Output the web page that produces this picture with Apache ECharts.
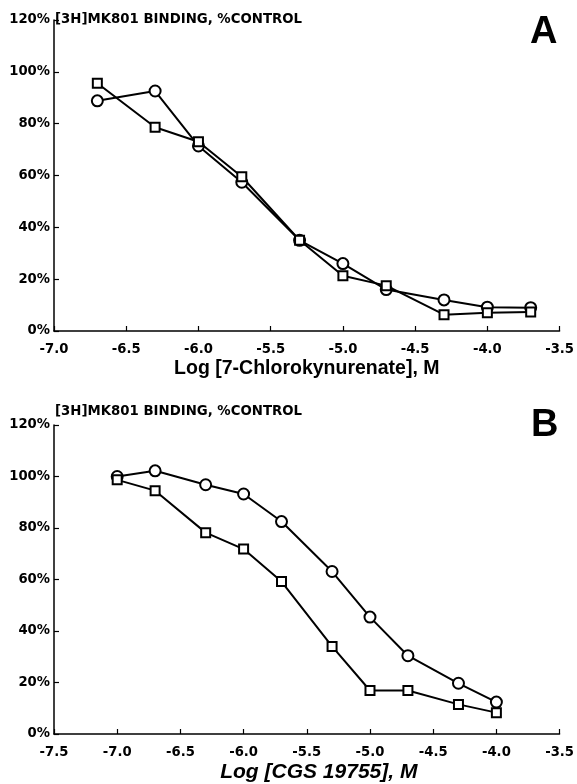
<!DOCTYPE html>
<html>
<head>
<meta charset="utf-8">
<title>MK801 binding</title>
<script src="https://cdn.jsdelivr.net/npm/echarts/dist/echarts.min.js"></script>
<style>
  html, body { margin: 0; padding: 0; background: #fff; }
  #chart { width: 577px; height: 784px; }
</style>
</head>
<body>
<div id="chart"></div>
<script>
// panel A: 7-chlorokynurenate
const logConcA = [-6.7, -6.3, -6.0, -5.7, -5.3, -5.0, -4.7, -4.3, -4.0, -3.7]
const circlesA = [88.8, 92.6, 71.4, 57.4, 35, 26, 16, 12, 9.2, 9]
const squaresA = [95.6, 78.6, 73, 59.5, 35, 21.3, 17.5, 6.3, 7, 7.3]

// panel B: CGS 19755
const logConcB = [-7.0, -6.7, -6.3, -6.0, -5.7, -5.3, -5.0, -4.7, -4.3, -4.0]
const circlesB = [100, 102.2, 96.8, 93.2, 82.5, 63.1, 45.4, 30.4, 19.7, 12.4]
const squaresB = [98.7, 94.5, 78.2, 71.8, 59.2, 34, 16.9, 16.9, 11.5, 8.3]

const yTitle = "[3H]MK801 BINDING, %CONTROL"
const xNameA = "Log [7-Chlorokynurenate], M"
const xNameB = "Log [CGS 19755], M"

const tickFont = {
  fontFamily: "DejaVu Sans",
  fontWeight: "bold",
  fontSize: 13.2,
  color: "#000"
}

const pairs = (xs, ys) => xs.map((x, i) => [x, ys[i]])

const makeX = (idx, min, name, italic, size, shift) => ({
  type: "value",
  gridIndex: idx,
  min: min,
  max: -3.5,
  interval: 0.5,
  name: name,
  nameLocation: "middle",
  nameGap: 28,
  nameTextStyle: {
    fontFamily: "Liberation Sans",
    fontWeight: "bold",
    fontStyle: italic ? "italic" : "normal",
    fontSize: size,
    color: "#000",
    padding: [0, 0, 0, shift]
  },
  axisLine: { onZero: false, lineStyle: { color: "#000", width: 1.5 } },
  axisTick: { inside: true, length: 5, lineStyle: { color: "#000", width: 1.2 } },
  axisLabel: Object.assign({ margin: 12, formatter: v => v.toFixed(1) }, tickFont),
  splitLine: { show: false }
})

const makeY = idx => ({
  type: "value",
  gridIndex: idx,
  min: 0,
  max: 120,
  interval: 20,
  axisLine: { show: true, lineStyle: { color: "#000", width: 1.5 } },
  axisTick: { show: true, inside: true, length: 5, lineStyle: { color: "#000", width: 1.2 } },
  axisLabel: Object.assign({ margin: 4, formatter: v => v + "%" }, tickFont),
  splitLine: { show: false }
})

const makeSeries = (idx, data, symbol, size) => ({
  type: "line",
  xAxisIndex: idx,
  yAxisIndex: idx,
  data: data,
  symbol: symbol,
  symbolSize: size,
  showAllSymbol: true,
  lineStyle: { color: "#000", width: 2 },
  itemStyle: { color: "#fff", borderColor: "#000", borderWidth: 2 },
  animation: false
})

const chart = echarts.init(document.getElementById("chart"), null, { renderer: "canvas" })

chart.setOption({
  backgroundColor: "#fff",
  animation: false,
  title: [
    {
      text: yTitle,
      left: 55,
      top: 13,
      padding: 0,
      textStyle: { fontFamily: "DejaVu Sans", fontWeight: "bold", fontSize: 13.3, color: "#000" }
    },
    {
      text: "A",
      left: 530,
      top: 14,
      padding: 0,
      textStyle: { fontFamily: "Liberation Sans", fontWeight: "bold", fontSize: 38, color: "#000" }
    },
    {
      text: yTitle,
      left: 55,
      top: 405,
      padding: 0,
      textStyle: { fontFamily: "DejaVu Sans", fontWeight: "bold", fontSize: 13.3, color: "#000" }
    },
    {
      text: "B",
      left: 531,
      top: 407,
      padding: 0,
      textStyle: { fontFamily: "Liberation Sans", fontWeight: "bold", fontSize: 38, color: "#000" }
    }
  ],
  grid: [
    { left: 54, top: 20, width: 507, height: 311 },
    { left: 54, top: 425, width: 507, height: 312 }
  ],
  xAxis: [makeX(0, -7, xNameA, false, 19.5, 0), makeX(1, -7.5, xNameB, true, 21, 24)],
  yAxis: [makeY(0), makeY(1)],
  series: [
    makeSeries(0, pairs(logConcA, circlesA), "circle", 11),
    makeSeries(0, pairs(logConcA, squaresA), "rect", 9),
    makeSeries(1, pairs(logConcB, circlesB), "circle", 11),
    makeSeries(1, pairs(logConcB, squaresB), "rect", 9)
  ]
})
</script>
</body>
</html>
